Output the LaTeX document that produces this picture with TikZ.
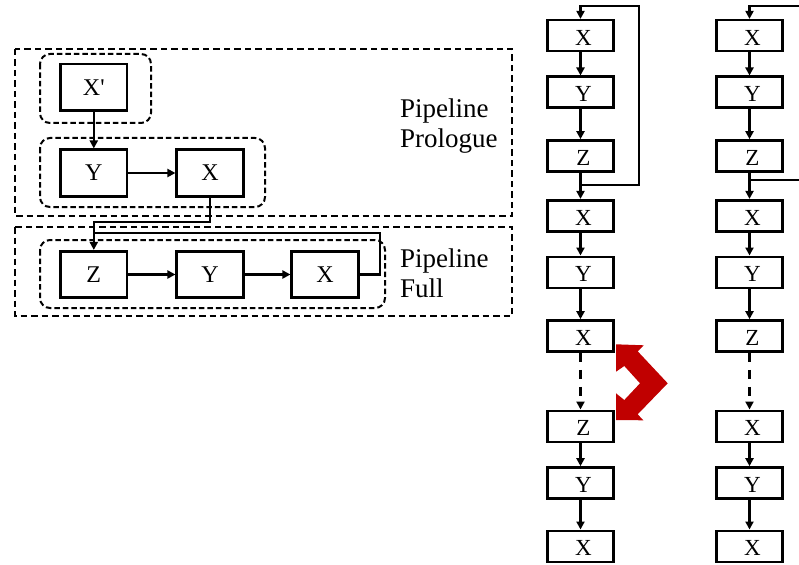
\documentclass[tikz,border=0pt]{standalone}
\usepackage{fontspec}
\setmainfont{Liberation Serif}
\usetikzlibrary{arrows.meta}
\definecolor{arrowred}{HTML}{C00000}
\begin{document}
\begin{tikzpicture}[x=1pt,y=-1pt,
  box/.style={draw,line width=2.6pt,minimum width=66.5pt,minimum height=46.5pt,inner sep=0pt,font=\fontsize{24}{28}\selectfont},
  cbox/.style={draw,line width=2.6pt,minimum width=66.5pt,minimum height=31pt,inner sep=0pt,text height=19pt,text depth=0pt,font=\fontsize{23}{27}\selectfont,execute at begin node={\hspace*{6pt}}},
  conn/.style={line width=2.1pt,-{Triangle[width=8pt,length=8pt]}},
  plainline/.style={line width=2.1pt},
  grp/.style={draw,line width=2pt,dash pattern=on 5.5pt off 3pt,rounded corners=10pt},
  stage/.style={draw,line width=1.4pt,dash pattern=on 6.5pt off 4pt},
  lbl/.style={anchor=base west,inner sep=0pt,font=\fontsize{27}{30}\selectfont}]
\useasboundingbox (0,0) rectangle (799,564);

% ---- left: pipeline stages ----
\draw[stage] (15,49) rectangle (512,216);
\draw[stage] (15,227) rectangle (512,316);
\draw[grp] (40,54) rectangle (151,123);
\draw[grp] (40,138) rectangle (265,207);
\draw[grp] (40,240) rectangle (385,308);

\node[box] (pXp) at (93.8,87.2) {X\textquotesingle};
\node[box] (pY) at (93.8,173) {Y};
\node[box] (pX) at (210,173) {X};
\node[box] (fZ) at (93.8,274.5) {Z};
\node[box] (fY) at (210,274.5) {Y};
\node[box] (fX) at (325,274.5) {X};

\node[lbl] (l1) at (400,118) {Pipeline};
\node[lbl] (l2) at (400,148) {Prologue};
\node[lbl] (l3) at (400,267) {Pipeline};
\node[lbl] (l4) at (400,297) {Full};

\draw[conn] (pXp) -- (pY);
\draw[conn] (pY) -- (pX);
\coordinate (pb1) at (210,221.7);
\coordinate (pb2) at (93.8,221.7);
\draw[conn] (pX.south) -- (pb1) -- (pb2) -- (fZ.north);
\draw[conn] (fZ) -- (fY);
\draw[conn] (fY) -- (fX);
\coordinate (lp2) at (380,232.7);
\coordinate (lp3) at (93.8,232.7);
\draw[plainline] (fX.east) -| (lp2) -- (lp3);

% ---- right: two columns ----
\foreach \i/\y/\a/\b in {1/35.7/X/X, 2/92.3/Y/Y, 3/156/Z/Z, 4/215.7/X/X, 5/272.3/Y/Y, 6/336/X/Z, 7/426.3/Z/X, 8/483/Y/Y, 9/546.3/X/X}{
  \node[cbox] (a\i) at (580.5,\y) {\a};
  \node[cbox] (b\i) at (749.5,\y) {\b};
}
\foreach \i/\j in {1/2,2/3,3/4,4/5,5/6,7/8,8/9}{
  \draw[conn] (a\i) -- (a\j);
  \draw[conn] (b\i) -- (b\j);
}
\draw[conn,dash pattern=on 9pt off 8pt] (a6) -- (a7);
\draw[conn,dash pattern=on 9pt off 8pt] (b6) -- (b7);

\coordinate (r1t) at (639.3,5.7);
\coordinate (r1b) at (639.3,185);
\draw[conn] (a4.north |- r1b) -- (r1b) -- (r1t) -- (a1.north |- r1t) -- (a1.north);
\coordinate (r2t) at (802,5.7);
\coordinate (r2b) at (802,180);
\draw[plainline] (b4.north |- r2b) -- (r2b);
\draw[conn] (r2t) -- (b1.north |- r2t) -- (b1.north);

% ---- red swap arrow ----
\fill[arrowred] (616,344.3) -- (643.7,345.3) -- (637.7,351.3) -- (667.7,383.3) -- (637.7,414.3) -- (643.3,420.3) -- (616,420) -- (616,393.3) -- (624.3,400) -- (640,383.3) -- (624.3,366) -- (616,371.7) -- cycle;
\end{tikzpicture}
\end{document}
